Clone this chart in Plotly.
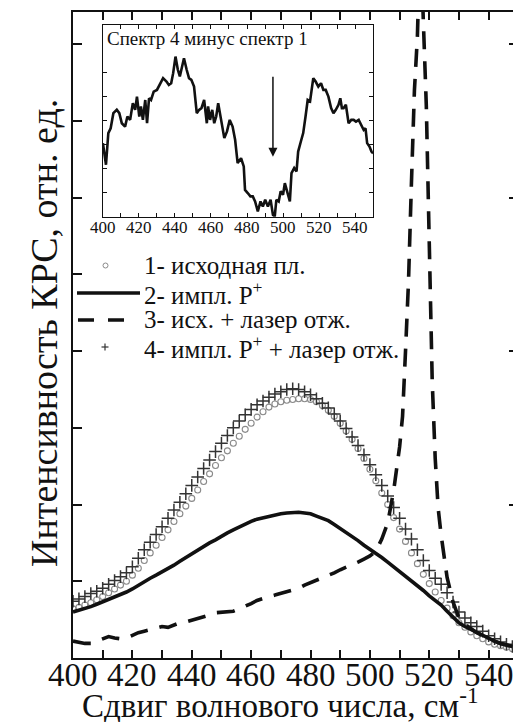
import plotly.graph_objects as go

# ---- Main spectra: Raman shift (cm^-1) vs. intensity (arb. units) ----
shift = [400, 402, 404, 406, 408, 410, 412, 414, 416, 418, 420, 422, 424, 426, 428,
         430, 432, 434, 436, 438, 440, 442, 444, 446, 448, 450, 452, 454, 456, 458,
         460, 462, 464, 466, 468, 470, 472, 474, 476, 478, 480, 482, 484, 486, 488,
         490, 492, 494, 496, 498, 500, 502, 504, 506, 508, 510, 512, 514, 516, 518,
         520, 522, 524, 526, 528, 530, 532, 534, 536, 538, 540, 542, 544, 546, 548]

s1_initial = [0.64, 0.66, 0.69, 0.72, 0.76, 0.80, 0.85, 0.90, 0.95, 1.00, 1.08, 1.17, 1.27, 1.37, 1.47,
              1.57, 1.67, 1.78, 1.88, 1.98, 2.08, 2.19, 2.30, 2.40, 2.51, 2.61, 2.70, 2.80, 2.89, 2.98,
              3.06, 3.14, 3.21, 3.27, 3.31, 3.34, 3.36, 3.37, 3.38, 3.38, 3.37, 3.34, 3.29, 3.23, 3.15,
              3.06, 2.96, 2.85, 2.73, 2.60, 2.46, 2.31, 2.15, 2.00, 1.83, 1.68, 1.52, 1.37, 1.23, 1.09,
              0.97, 0.86, 0.75, 0.65, 0.55, 0.46, 0.40, 0.34, 0.29, 0.25, 0.21, 0.18, 0.16, 0.14, 0.12]

s2_implanted = [0.60, 0.62, 0.64, 0.67, 0.70, 0.73, 0.76, 0.79, 0.82, 0.86, 0.90, 0.95, 0.99, 1.04, 1.08,
                1.12, 1.17, 1.21, 1.26, 1.31, 1.36, 1.40, 1.45, 1.50, 1.54, 1.59, 1.63, 1.67, 1.71, 1.75,
                1.78, 1.81, 1.83, 1.85, 1.86, 1.88, 1.89, 1.90, 1.90, 1.89, 1.88, 1.85, 1.82, 1.79, 1.74,
                1.69, 1.64, 1.58, 1.53, 1.47, 1.42, 1.37, 1.31, 1.25, 1.19, 1.12, 1.06, 1.00, 0.94, 0.88,
                0.81, 0.75, 0.69, 0.61, 0.53, 0.46, 0.41, 0.37, 0.33, 0.29, 0.25, 0.22, 0.19, 0.17, 0.15]

s4_impl_laser = [0.74, 0.77, 0.80, 0.84, 0.87, 0.91, 0.96, 1.01, 1.06, 1.11, 1.19, 1.30, 1.41, 1.51, 1.61,
                 1.71, 1.82, 1.93, 2.03, 2.14, 2.25, 2.36, 2.47, 2.58, 2.69, 2.80, 2.90, 3.00, 3.09, 3.17,
                 3.24, 3.30, 3.35, 3.40, 3.44, 3.47, 3.50, 3.51, 3.50, 3.47, 3.43, 3.38, 3.32, 3.26, 3.18,
                 3.09, 2.99, 2.88, 2.77, 2.65, 2.52, 2.39, 2.25, 2.11, 1.96, 1.82, 1.68, 1.55, 1.41, 1.27,
                 1.14, 1.04, 0.96, 0.85, 0.73, 0.60, 0.52, 0.46, 0.41, 0.35, 0.29, 0.25, 0.21, 0.18, 0.15]

shift3 = [400, 402, 404, 406, 408, 410, 412, 414, 416, 418, 420, 422, 424, 426, 428,
          430, 432, 434, 436, 438, 440, 442, 444, 446, 448, 450, 452, 454, 456, 458,
          460, 462, 464, 466, 468, 470, 472, 474, 476, 478, 480, 482, 484, 486, 488,
          490, 492, 494, 496, 498, 500, 502, 504, 506, 508, 510, 511, 512, 513, 514,
          515, 516, 517, 518, 519, 520, 521, 522, 523, 524, 526, 528, 530, 532, 534,
          536, 538, 540, 542, 544, 546, 548]

s3_laser = [0.22, 0.20, 0.19, 0.19, 0.22, 0.26, 0.28, 0.26, 0.25, 0.26, 0.30, 0.33, 0.35, 0.37, 0.40,
            0.41, 0.40, 0.43, 0.46, 0.47, 0.49, 0.51, 0.53, 0.56, 0.59, 0.60, 0.61, 0.61, 0.64, 0.67,
            0.71, 0.75, 0.78, 0.80, 0.82, 0.84, 0.86, 0.88, 0.91, 0.95, 0.98, 1.01, 1.04, 1.07, 1.11,
            1.15, 1.18, 1.21, 1.25, 1.29, 1.33, 1.39, 1.55, 1.76, 2.18, 2.75, 3.15, 4.00, 4.90, 6.20,
            7.40, 8.10, 9.50, 8.30, 7.20, 5.40, 3.60, 2.60, 1.95, 1.60, 1.05, 0.73, 0.52, 0.44, 0.38,
            0.33, 0.29, 0.25, 0.22, 0.19, 0.17, 0.15]

# ---- Inset: spectrum 4 minus spectrum 1 ----
diff_shift = [400.0, 401.7, 403.0, 404.3, 405.8, 407.7, 409.1, 410.5, 412.3, 413.6, 415.1, 416.6, 417.9,
              418.9, 420.2, 421.1, 422.2, 423.5, 424.5, 425.6, 426.7, 428.2, 430.0, 431.9, 433.4, 435.3,
              436.6, 437.9, 439.0, 440.3, 441.6, 442.7, 444.0, 445.0, 446.5, 447.8, 449.1, 450.6, 452.1,
              453.4, 454.7, 456.2, 457.7, 458.4, 459.5, 460.7, 461.8, 462.9, 464.0, 465.5, 467.4, 468.9,
              470.4, 472.0, 473.4, 474.8, 476.7, 478.2, 478.9, 480.4, 481.9, 483.2, 484.5, 486.0, 487.5,
              488.8, 490.1, 491.6, 493.1, 494.4, 495.4, 496.3, 497.6, 498.7, 500.0, 501.0, 502.5, 503.8,
              504.7, 506.2, 507.5, 508.4, 509.9, 511.2, 512.5, 513.7, 515.0, 515.9, 516.8, 518.1, 519.6,
              521.1, 522.4, 523.7, 525.2, 526.7, 528.0, 529.3, 530.8, 531.8, 532.7, 533.6, 534.9, 536.4,
              537.9, 539.2, 540.5, 542.0, 543.5, 544.8, 545.8, 546.7, 548.0, 549.1, 550.0]

diff_value = [3.07, 2.17, 3.49, 3.69, 4.32, 4.46, 4.32, 3.90, 3.76, 4.18, 4.04, 4.74, 4.46,
              5.01, 4.18, 4.60, 4.04, 4.87, 3.90, 4.94, 4.87, 5.22, 5.29, 5.57, 5.78, 5.64,
              5.50, 5.57, 5.99, 6.68, 6.13, 5.85, 6.26, 6.61, 6.13, 5.78, 5.71, 5.43, 4.32,
              4.46, 4.53, 4.87, 3.90, 4.60, 4.04, 4.46, 3.90, 4.18, 4.74, 4.04, 3.28, 3.56,
              4.04, 3.76, 3.21, 2.24, 2.44, 2.10, 1.12, 0.99, 0.85, 0.85, 0.64, 0.22, 0.64,
              0.43, 0.71, 0.43, 0.71, 0.08, 0.01, 0.71, 0.64, 1.06, 0.92, 1.40, 0.92, 0.64,
              1.82, 2.03, 1.89, 2.72, 3.14, 3.49, 4.18, 4.87, 4.81, 5.43, 5.78, 5.64, 5.43,
              5.57, 5.29, 5.29, 5.01, 4.53, 4.32, 4.46, 4.67, 4.94, 4.53, 4.53, 4.67, 3.90,
              4.04, 4.04, 3.97, 4.04, 3.83, 3.62, 3.69, 3.07, 2.93, 2.72, 2.65]

arrow_shift = 494.4
arrow_from, arrow_to = 5.9, 2.5

x_ticks = [400, 420, 440, 460, 480, 500, 520, 540]
x_tick_text = ["400", "420", "440", "460", "480", "500", "520", "540"]

legend_labels = ["1- исходная пл.",
                 "2- импл. P<sup>+</sup>",
                 "3- исх. + лазер отж.",
                 "4- импл. P<sup>+</sup> + лазер отж."]

FONT = "Times New Roman"
INK = "#111111"


def serif(size):
    return dict(family=FONT, size=size, color=INK)


fig = go.Figure()

fig.add_trace(go.Scatter(x=shift, y=s1_initial, mode="markers", name=legend_labels[0],
                         marker=dict(symbol="circle-open", size=6, color="#8a8a8a",
                                     line=dict(width=1.1, color="#8a8a8a"))))
fig.add_trace(go.Scatter(x=shift, y=s4_impl_laser, mode="markers", name=legend_labels[3],
                         marker=dict(symbol="cross-thin-open", size=9, color="#333333",
                                     line=dict(width=1.5, color="#333333"))))
fig.add_trace(go.Scatter(x=shift, y=s2_implanted, mode="lines", name=legend_labels[1],
                         line=dict(color=INK, width=3.6)))
fig.add_trace(go.Scatter(x=shift3, y=s3_laser, mode="lines", name=legend_labels[2],
                         line=dict(color=INK, width=3.6, dash="18px,12px")))
# empty trace that carries the right-hand tick axis
fig.add_trace(go.Scatter(x=[], y=[], yaxis="y3", showlegend=False, hoverinfo="skip"))

# inset trace
fig.add_trace(go.Scatter(x=diff_shift, y=diff_value, mode="lines", xaxis="x2", yaxis="y2",
                         line=dict(color=INK, width=2.6), showlegend=False))

axis_common = dict(showgrid=False, zeroline=False, showline=True, linecolor=INK,
                   ticks="inside", tickcolor=INK)

fig.update_layout(
    template="none",
    width=513, height=722,
    margin=dict(l=73, r=0, t=12, b=64),
    paper_bgcolor="white", plot_bgcolor="white",
    showlegend=False,
    font=serif(14),
    xaxis=dict(**axis_common, range=[400, 548.2], domain=[0, 1], linewidth=2,
               tickvals=x_ticks, ticklen=8, tickwidth=1.5, mirror="ticks",
               showticklabels=False,
               minor=dict(dtick=10, tick0=400, ticks="inside", ticklen=8, tickwidth=1.5, tickcolor=INK)),
    yaxis=dict(**axis_common, range=[0, 8.42], domain=[0, 1], linewidth=2,
               tickvals=[1, 2, 3, 4, 5, 6, 7, 8], ticklen=9, tickwidth=1.5,
               showticklabels=False),
    yaxis3=dict(overlaying="y", side="right", range=[0, 8.42], showgrid=False, zeroline=False,
                showline=False, ticks="inside", tickvals=[2, 4, 6, 8], ticklen=4,
                tickwidth=1.5, tickcolor=INK, showticklabels=False),
    xaxis2=dict(**axis_common, domain=[0.068, 0.682], anchor="y2", range=[400, 550],
                linewidth=1, mirror="ticks", tickvals=x_ticks, showticklabels=False,
                ticklen=4, tickwidth=1,
                minor=dict(dtick=10, tick0=400, ticks="inside", ticklen=4, tickwidth=1, tickcolor=INK)),
    yaxis2=dict(**axis_common, domain=[0.683, 0.980], anchor="x2", range=[0, 8],
                linewidth=1, mirror="ticks", tickvals=[1, 2, 3, 4, 5, 6], ticklen=4,
                tickwidth=1, showticklabels=False),
)


def px_x(p):
    return (p - 73) / 440.0


def px_y(p):
    return (658 - p) / 646.0


annotations = [
    dict(text="Интенсивность КРС, отн. ед.", textangle=-90, xref="paper", yref="paper",
         x=px_x(44), y=px_y(333), xanchor="center", yanchor="middle", showarrow=False,
         font=serif(38)),
    dict(text="Сдвиг волнового числа, см<sup>-1</sup>", xref="paper", yref="paper",
         x=px_x(280), y=px_y(703), xanchor="center", yanchor="middle", showarrow=False,
         font=serif(33)),
    dict(text="Спектр 4 минус спектр 1", xref="paper", yref="paper",
         x=px_x(105), y=px_y(38), xanchor="left", yanchor="middle", showarrow=False,
         font=serif(19)),
    dict(x=arrow_shift, y=arrow_to, ax=arrow_shift, ay=arrow_from, xref="x2", yref="y2",
         axref="x2", ayref="y2", showarrow=True, arrowhead=2, arrowsize=1.2, arrowwidth=1.5,
         arrowcolor=INK, text=""),
]

# tick labels of the main axis and of the inset axis
for val, txt in zip(x_ticks, x_tick_text):
    annotations.append(dict(text=txt, x=val, xref="x", y=px_y(675), yref="paper",
                            xanchor="center", yanchor="middle", showarrow=False,
                            font=serif(33)))
    annotations.append(dict(text=txt, x=val, xref="x2", y=px_y(228), yref="paper",
                            xanchor="center", yanchor="middle", showarrow=False,
                            font=serif(17)))

legend_rows = [265, 293, 320, 347]
for label, row in zip(legend_labels, legend_rows):
    annotations.append(dict(text=label, xref="paper", yref="paper", x=px_x(142), y=px_y(row),
                            xanchor="left", yanchor="middle", showarrow=False,
                            font=serif(25)))

shapes = [
    # 1: open circle
    dict(type="circle", xref="paper", yref="paper", x0=px_x(103), x1=px_x(108),
         y0=px_y(268), y1=px_y(263), line=dict(color="#8a8a8a", width=1)),
    # 2: solid line
    dict(type="line", xref="paper", yref="paper", x0=px_x(77), x1=px_x(140),
         y0=px_y(293), y1=px_y(293), line=dict(color=INK, width=3.6)),
    # 3: dashed line
    dict(type="line", xref="paper", yref="paper", x0=px_x(78), x1=px_x(126),
         y0=px_y(320), y1=px_y(320), line=dict(color=INK, width=3.6, dash="16px,14px")),
    # 4: plus
    dict(type="line", xref="paper", yref="paper", x0=px_x(101.5), x1=px_x(108.5),
         y0=px_y(347), y1=px_y(347), line=dict(color="#333333", width=1.2)),
    dict(type="line", xref="paper", yref="paper", x0=px_x(105), x1=px_x(105),
         y0=px_y(343.5), y1=px_y(350.5), line=dict(color="#333333", width=1.2)),
]

fig.update_layout(annotations=annotations, shapes=shapes)

fig.write_html("out.html")
